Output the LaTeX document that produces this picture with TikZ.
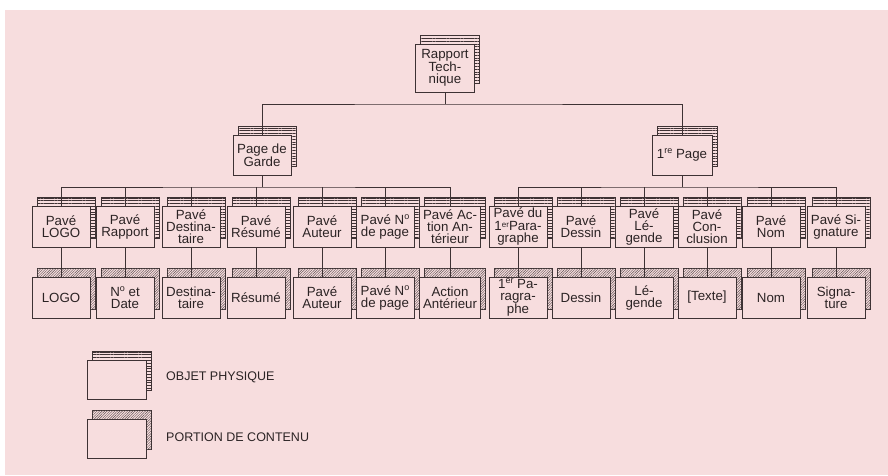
\documentclass[tikz,border=0pt]{standalone}
\usepackage{fontspec}
\setmainfont{Liberation Sans}
\usetikzlibrary{patterns.meta}
\definecolor{bg}{RGB}{247,221,222}
\definecolor{ink}{RGB}{62,50,52}
\newcommand\supx[1]{\raisebox{0.6ex}{\fontsize{9}{9}\selectfont #1}}
\newcommand\supl[1]{\raisebox{0.3ex}{\fontsize{8}{8}\selectfont #1}}
\tikzset{
  base/.style={draw=ink, line width=0.8pt, fill=bg, minimum width=58pt, minimum height=41pt,
    inner sep=0pt, align=center, text=ink!70!black, font=\fontsize{13.3}{12}\selectfont},
  phys/.style={base, preaction={draw=ink, line width=0.8pt, fill=bg,
    postaction={pattern={Lines[angle=0,distance=2.8pt,line width=0.5pt]}, pattern color=ink},
    transform canvas={shift={(5pt,9pt)}}}},
  cont/.style={base, preaction={draw=ink, line width=0.8pt, fill=bg,
    postaction={pattern={Lines[angle=45,distance=1.8pt,line width=0.45pt]}, pattern color=ink!85},
    transform canvas={shift={(5pt,9pt)}}}},
  conn/.style={draw=ink, line width=0.8pt},
  legtext/.style={anchor=west, inner sep=0pt, text=ink!70!black, font=\fontsize{12.5}{12}\selectfont}
}
\begin{document}
\begin{tikzpicture}[x=1pt,y=-1pt]
\useasboundingbox (0,0) rectangle (888,475);
\fill[white] (0,0) rectangle (888,475);
\fill[bg] (5,10) rectangle (888,475);

% level 0
\node[phys, minimum height=48pt, minimum width=59pt] (rt) at (445,68) {Rapport\\Tech-\\nique};
% level 1
\node[phys, minimum height=40pt] (pg) at (262,155) {Page de\\Garde};
\node[phys, minimum height=40pt, minimum width=60pt] (pp) at (682,155) {1\supx{re} Page};

% level 2
\node[phys] (a1) at (61,226.5) {Pavé\\LOGO};
\node[phys] (a2) at (125,226.5) {Pavé\\Rapport};
\node[phys] (a3) at (191,226.5) {Pavé\\Destina-\\taire};
\node[phys] (a4) at (256,226.5) {Pavé\\Résumé};
\node[phys] (a5) at (322,226.5) {Pavé\\Auteur};
\node[phys] (a6) at (385,226.5) {Pavé N\supx{o}\\de page};
\node[phys, minimum width=61pt] (a7) at (450,226.5) {Pavé Ac-\\tion An-\\térieur};
\node[phys, font=\fontsize{13.3}{12.6}\selectfont] (a8) at (518,226.5) {Pavé du\\1\supl{er}Para-\\graphe};
\node[phys] (a9) at (581,226.5) {Pavé\\Dessin};
\node[phys] (a10) at (644,226.5) {Pavé\\Lé-\\gende};
\node[phys] (a11) at (707,226.5) {Pavé\\Con-\\clusion};
\node[phys] (a12) at (771,226.5) {Pavé\\Nom};
\node[phys] (a13) at (836,226.5) {Pavé Si-\\gnature};

% level 3
\node[cont] (b1) at (61,297.5) {LOGO};
\node[cont] (b2) at (125,297.5) {N\supx{o} et\\Date};
\node[cont] (b3) at (191,297.5) {Destina-\\taire};
\node[cont] (b4) at (256,297.5) {Résumé};
\node[cont] (b5) at (322,297.5) {Pavé\\Auteur};
\node[cont] (b6) at (385,297.5) {Pavé N\supx{o}\\de page};
\node[cont, minimum width=61pt] (b7) at (450,297.5) {Action\\Antérieur};
\node[cont] (b8) at (518,297.5) {1\supx{er} Pa-\\ragra-\\phe};
\node[cont] (b9) at (581,297.5) {Dessin};
\node[cont] (b10) at (644,297.5) {Lé-\\gende};
\node[cont] (b11) at (707,297.5) {[Texte]};
\node[cont] (b12) at (771,297.5) {Nom};
\node[cont] (b13) at (836,297.5) {Signa-\\ture};

% buses
\coordinate (t0) at (445,104);
\coordinate (l2) at (262,187);
\coordinate (r2) at (682,187);
\draw[conn] (rt.south) -- (t0);
\draw[conn] (pg.north) |- (t0) -| (pp.north);
\draw[conn] (pg.south) -- (l2);
\draw[conn] (pp.south) -- (r2);
\draw[conn] (a1.north) |- (l2) -| (a7.north);
\foreach \i in {2,...,6} { \draw[conn] (a\i.north) -- (a\i.north |- l2); }
\draw[conn] (a8.north) |- (r2) -| (a13.north);
\foreach \i in {9,...,12} { \draw[conn] (a\i.north) -- (a\i.north |- r2); }
\foreach \i in {1,...,13} { \draw[conn] (a\i.south) -- (b\i.north); }

% legend
\node[phys, minimum width=59pt, minimum height=39pt] (lg1) at (116.5,379.5) {};
\node[legtext] (lt1) at (166,377) {OBJET PHYSIQUE};
\node[cont, minimum width=59pt, minimum height=39pt] (lg2) at (116.5,438.5) {};
\node[legtext] (lt2) at (166,437) {PORTION DE CONTENU};
\end{tikzpicture}
\end{document}
